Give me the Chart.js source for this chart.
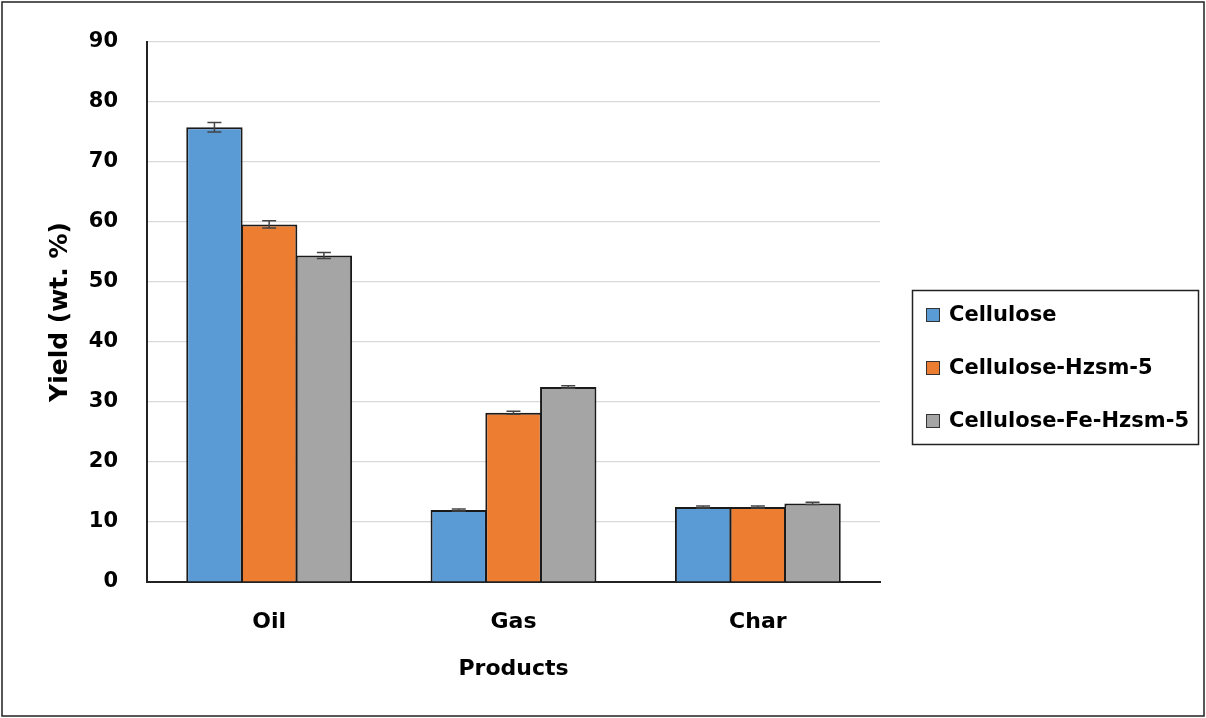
<!DOCTYPE html>
<html>
<head>
<meta charset="utf-8">
<script src="https://cdn.jsdelivr.net/npm/chart.js@4"></script>
<style>
  body { margin: 0; background: #fff; }
  canvas { display: block; }
</style>
</head>
<body>
<canvas id="yieldChart" width="1206" height="718"></canvas>
<script>
// data
const products = ["Oil", "Gas", "Char"];
const seriesNames = ["Cellulose", "Cellulose-Hzsm-5", "Cellulose-Fe-Hzsm-5"];
const cellulose = [75.8, 12.0, 12.5];
const celluloseHzsm = [59.6, 28.2, 12.5];
const celluloseFeHzsm = [54.4, 32.5, 13.1];
const celluloseErr = [0.8, 0.15, 0.15];
const celluloseHzsmErr = [0.6, 0.25, 0.15];
const celluloseFeHzsmErr = [0.5, 0.2, 0.2];
const yTicks = [0, 10, 20, 30, 40, 50, 60, 70, 80, 90];

const colors = ["#5b9bd5", "#ed7d31", "#a5a5a5"];
const errors = [celluloseErr, celluloseHzsmErr, celluloseFeHzsmErr];
const textColor = "#000";
const boldFont = "'DejaVu Sans', sans-serif";

// error bars, drawn through the y scale
const errorBars = {
  id: "errorBars",
  afterDatasetsDraw(chart) {
    const ctx = chart.ctx;
    const y = chart.scales.y;
    ctx.save();
    ctx.strokeStyle = "#444";
    ctx.lineWidth = 1.5;
    chart.data.datasets.forEach((ds, i) => {
      const meta = chart.getDatasetMeta(i);
      meta.data.forEach((bar, j) => {
        const v = ds.data[j];
        const e = errors[i][j];
        const top = y.getPixelForValue(v + e);
        const bot = y.getPixelForValue(v - e);
        ctx.beginPath();
        ctx.moveTo(bar.x, top);
        ctx.lineTo(bar.x, bot);
        ctx.moveTo(bar.x - 7, top);
        ctx.lineTo(bar.x + 7, top);
        ctx.moveTo(bar.x - 7, bot);
        ctx.lineTo(bar.x + 7, bot);
        ctx.stroke();
      });
    });
    ctx.restore();
  },
};

// boxed legend on the right and the outer frame
const boxLegend = {
  id: "boxLegend",
  afterDraw(chart) {
    const ctx = chart.ctx;
    ctx.save();
    ctx.strokeStyle = "#222";
    ctx.lineWidth = 1.5;
    ctx.strokeRect(2, 2, 1202, 714);

    ctx.lineWidth = 1.5;
    ctx.strokeRect(912.5, 290.5, 286, 154);
    ctx.font = "bold 21px " + boldFont;
    ctx.textBaseline = "middle";
    chart.data.datasets.forEach((ds, i) => {
      const cy = 315 + i * 53;
      ctx.fillStyle = ds.backgroundColor;
      ctx.fillRect(926, cy - 7, 14, 14);
      ctx.strokeStyle = "#333";
      ctx.lineWidth = 1;
      ctx.strokeRect(926.5, cy - 6.5, 13, 13);
      ctx.fillStyle = textColor;
      ctx.fillText(ds.label, 949, cy + 1);
    });
    ctx.restore();
  },
};

const ctxYield = document.getElementById("yieldChart").getContext("2d");
const yieldChart = new Chart(ctxYield, {
  type: "bar",
  data: {
    labels: products,
    datasets: [cellulose, celluloseHzsm, celluloseFeHzsm].map((vals, i) => ({
      label: seriesNames[i],
      data: vals,
      backgroundColor: colors[i],
      borderColor: "#1a1a1a",
      borderWidth: 2,
      borderSkipped: "bottom",
      categoryPercentage: 0.672,
      barPercentage: 1.03,
    })),
  },
  options: {
    responsive: false,
    animation: false,
    layout: { padding: { top: 42, right: 326, left: 0, bottom: 0 } },
    plugins: {
      legend: { display: false },
      tooltip: { enabled: false },
    },
    scales: {
      x: {
        grid: { display: false, drawTicks: false },
        border: { display: true, color: "#222", width: 2 },
        ticks: {
          padding: 27,
          color: textColor,
          font: { family: boldFont, size: 22, weight: "bold" },
        },
        title: {
          display: true,
          text: "Products",
          color: textColor,
          font: { family: boldFont, size: 22, weight: "bold" },
          padding: { top: 0, bottom: 36 },
        },
        afterFit(scale) {
          scale.height = 136;
        },
      },
      y: {
        min: 0,
        max: 90,
        afterBuildTicks(scale) {
          scale.ticks = yTicks.map((v) => ({ value: v }));
        },
        grid: { color: "#d9d9d9", lineWidth: 1.2, drawTicks: false },
        border: { display: true, color: "#222", width: 2 },
        ticks: {
          padding: 29,
          color: textColor,
          font: { family: boldFont, size: 21, weight: "bold" },
        },
        title: {
          display: true,
          text: "Yield (wt. %)",
          color: textColor,
          font: { family: boldFont, size: 25, weight: "bold" },
          padding: { top: 45, bottom: 0 },
        },
        afterFit(scale) {
          scale.width = 147;
        },
      },
    },
  },
  plugins: [errorBars, boxLegend],
});
</script>
</body>
</html>
